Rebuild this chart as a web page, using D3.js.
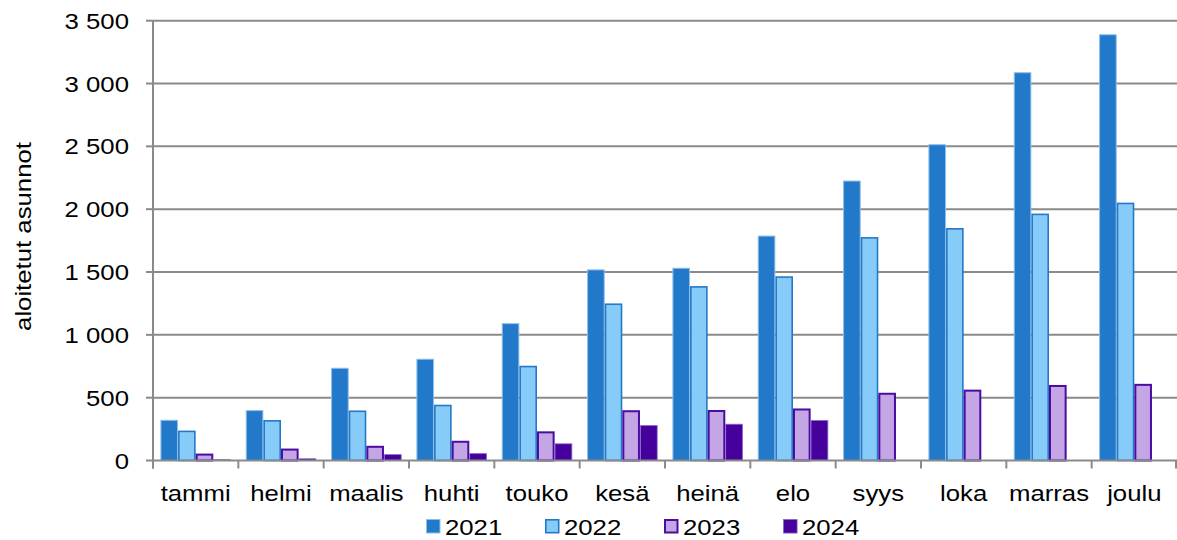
<!DOCTYPE html>
<html>
<head>
<meta charset="utf-8">
<script src="https://cdn.jsdelivr.net/npm/d3@7/dist/d3.min.js"></script>
<style>
  html, body { margin: 0; padding: 0; background: #fff; }
  svg { display: block; }
  text { font-family: "Liberation Sans", Arial, sans-serif; fill: #000; }
</style>
</head>
<body>
<svg id="chart" width="1177" height="540"></svg>
<script>
// Aloitetut asunnot kuukausittain, 2021–2024
const months = ["tammi", "helmi", "maalis", "huhti", "touko", "kesä", "heinä", "elo", "syys", "loka", "marras", "joulu"];
const years = ["2021", "2022", "2023", "2024"];
const values2021 = [324, 401, 738, 810, 1093, 1521, 1534, 1790, 2228, 2517, 3090, 3392];
const values2022 = [238, 322, 398, 444, 754, 1250, 1388, 1466, 1778, 1850, 1965, 2052];
const values2023 = [55, 95, 117, 157, 232, 400, 402, 414, 539, 564, 601, 610];
const values2024 = [10, 17, 50, 58, 136, 282, 292, 322, null, null, null, null];
const yTicks = [0, 500, 1000, 1500, 2000, 2500, 3000, 3500];
const yTickLabels = ["0", "500", "1 000", "1 500", "2 000", "2 500", "3 000", "3 500"];
const yTitle = "aloitetut asunnot";

const seriesValues = [values2021, values2022, values2023, values2024];
const styles = [
  { fill: "#2278c9", stroke: "#8cc0ec", sw: 1 },
  { fill: "#87cbf8", stroke: "#2478c8", sw: 1.6 },
  { fill: "#c3a6e3", stroke: "#4a0ca2", sw: 2 },
  { fill: "#46009b", stroke: "#8f6cc8", sw: 0.8 }
];

const svg = d3.select("#chart");
const plotLeft = 153, plotRight = 1177, plotTop = 20.7, plotBottom = 460.5;
const gridColor = "#8a8a8a";
const wide = 1.17; // horizontal stretch of the label typeface
const fontSize = 22;

const x0 = d3.scaleBand().domain(months).range([plotLeft, plotRight]).paddingInner(0).paddingOuter(0);
const x1 = d3.scaleBand().domain(years).range([0, x0.bandwidth()]).paddingInner(0).paddingOuter(0.42);
const y = d3.scaleLinear().domain([0, 3500]).range([plotBottom, plotTop]);

// horizontal gridlines
svg.append("g").selectAll("line").data(yTicks.filter(d => d > 0)).join("line")
  .attr("x1", plotLeft).attr("x2", plotRight)
  .attr("y1", d => y(d)).attr("y2", d => y(d))
  .attr("stroke", gridColor).attr("stroke-width", 2);

// bars
const rows = [];
months.forEach((m, i) => {
  years.forEach((yr, j) => {
    const v = seriesValues[j][i];
    if (v != null) rows.push({ m, yr, j, v });
  });
});
svg.append("g").selectAll("rect").data(rows).join("rect")
  .attr("x", d => x0(d.m) + x1(d.yr) + styles[d.j].sw / 2)
  .attr("width", d => x1.bandwidth() - styles[d.j].sw)
  .attr("y", d => y(d.v) + styles[d.j].sw / 2)
  .attr("height", d => Math.max(0, y(0) - y(d.v) - styles[d.j].sw / 2))
  .attr("fill", d => styles[d.j].fill)
  .attr("stroke", d => styles[d.j].stroke)
  .attr("stroke-width", d => styles[d.j].sw);

// y axis
const yAxis = svg.append("g");
yAxis.append("line").attr("x1", plotLeft).attr("x2", plotLeft).attr("y1", plotTop).attr("y2", plotBottom + 8)
  .attr("stroke", gridColor).attr("stroke-width", 2);
yAxis.selectAll("line.tick").data(yTicks).join("line").attr("class", "tick")
  .attr("x1", plotLeft - 7).attr("x2", plotLeft)
  .attr("y1", d => y(d)).attr("y2", d => y(d))
  .attr("stroke", gridColor).attr("stroke-width", 2);
yAxis.selectAll("text").data(yTicks).join("text")
  .attr("transform", d => `translate(129,${y(d) + 8}) scale(${wide},1)`)
  .attr("text-anchor", "end").attr("font-size", fontSize)
  .text((d, i) => yTickLabels[i]);

// x axis
const xAxis = svg.append("g");
xAxis.append("line").attr("x1", plotLeft).attr("x2", plotRight).attr("y1", plotBottom).attr("y2", plotBottom)
  .attr("stroke", gridColor).attr("stroke-width", 2);
const bounds = months.map(m => x0(m)).concat([plotRight - 1]);
xAxis.selectAll("line.tick").data(bounds).join("line").attr("class", "tick")
  .attr("x1", d => d).attr("x2", d => d).attr("y1", plotBottom).attr("y2", plotBottom + 8)
  .attr("stroke", gridColor).attr("stroke-width", 2);
xAxis.selectAll("text").data(months).join("text")
  .attr("transform", d => `translate(${x0(d) + x0.bandwidth() / 2},501) scale(${wide},1)`)
  .attr("text-anchor", "middle").attr("font-size", fontSize)
  .text(d => d);

// y axis title
svg.append("text")
  .attr("transform", `translate(30.5,236.5) rotate(-90) scale(${wide},1)`)
  .attr("text-anchor", "middle").attr("font-size", fontSize)
  .text(yTitle);

// legend
const legend = svg.append("g").attr("transform", "translate(426,519)");
const item = legend.selectAll("g").data(years).join("g")
  .attr("transform", (d, i) => `translate(${i * 119},0)`);
item.append("rect")
  .attr("x", (d, i) => styles[i].sw / 2).attr("y", (d, i) => styles[i].sw / 2)
  .attr("width", (d, i) => 14.5 - styles[i].sw).attr("height", (d, i) => 14.5 - styles[i].sw)
  .attr("fill", (d, i) => styles[i].fill)
  .attr("stroke", (d, i) => styles[i].stroke)
  .attr("stroke-width", (d, i) => styles[i].sw);
item.append("text")
  .attr("transform", `translate(19,15.5) scale(${wide},1)`)
  .attr("font-size", fontSize).text(d => d);
</script>
</body>
</html>
